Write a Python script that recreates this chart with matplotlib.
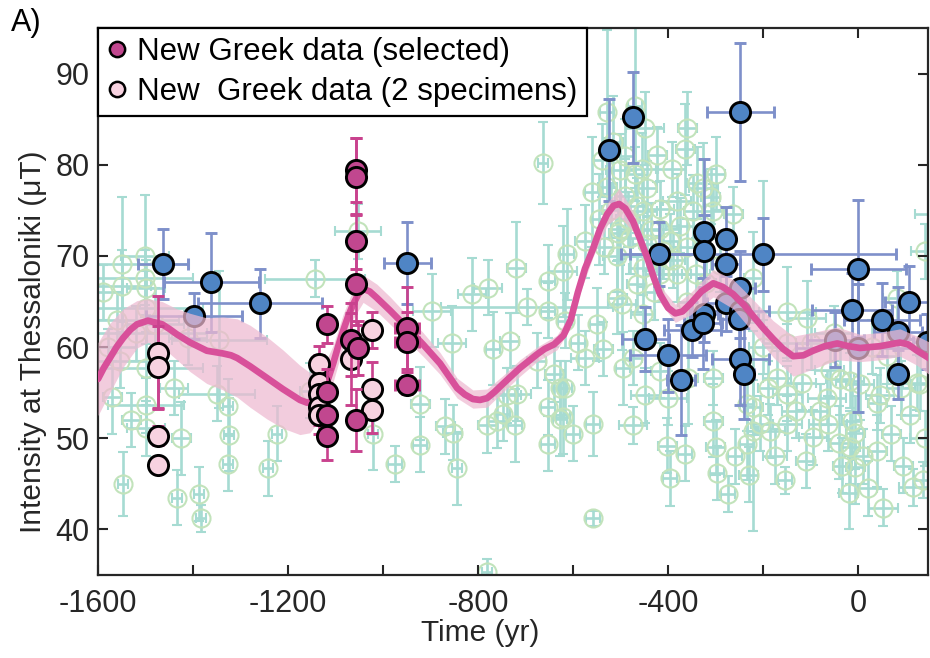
import matplotlib
matplotlib.use('Agg')
import matplotlib.pyplot as plt
from matplotlib.lines import Line2D
from matplotlib.ticker import FuncFormatter

plt.rcParams['font.family'] = ['Liberation Sans', 'DejaVu Sans']
plt.rcParams['axes.unicode_minus'] = False

# ---------------- data ----------------
# Literature data (teal): x, y, x-error, y-error
teal_x = [-1549, -1549, -1501, -1501, -1499, -1499, -1554, -1499, -1499, -1499,
          -1547, -1425, -1434, -1387, -1383, -1349, -1326, -1324, -1326, -1345,
          -1242, -1223, -1143, -1640, -1560, -1520, -1580, -1154, -1053, -1021,
          -975, -922, -922, -897, -855, -844, -869, -853, -813, -779,
          -768, -733, -720, -697, -653, -621, -676, -653, -653, -627,
          -627, -722, -781, -760, -747, -739, -718, -781, -663, -653,
          -528, -469, -448, -423, -392, -364, -326, -528, -501, -455,
          -491, -444, -453, -417, -381, -347, -305, -263, -501, -417,
          -375, -396, -444, -613, -575, -453, -417, -381, -341, -466,
          -617, -549, -537, -575, -617, -621, -558, -558, -497, -495,
          -448, -474, -400, -402, -396, -364, -305, -297, -274, -358,
          -305, -234, -234, -474, -507, -453, -417, -221, -200, -508,
          -480, -430, -360, -320, -290,
          -221, -149, -107, -171, -118, -149, -65, -38, -17, 4,
          46, 40, 124, -221, -206, -185, -149, -95, -63, -13,
          -6, -17, 40, -154, -34, -6, 53, 116, 137, 131,
          141, 82, 170, -100, -50, 30, -200, 60, -150]
teal_y = [69.1, 66.7, 70.0, 67.6, 66.5, 64.3, 58.5, 57.7, 53.6, 51.1,
          45.0, 50.0, 43.5, 43.9, 41.2, 54.9, 53.5, 50.4, 47.2, 60.8,
          46.7, 50.5, 67.5, 38.3, 63.0, 61.5, 60.0, 55.2, 72.7, 50.5,
          47.2, 53.8, 49.3, 64.0, 60.5, 46.7, 51.3, 50.6, 65.8, 66.5,
          59.8, 60.7, 68.7, 64.4, 67.2, 68.3, 58.5, 53.4, 49.4, 55.5,
          52.1, 51.4, 51.4, 51.9, 52.7, 54.7, 54.9, 35.3, 80.2, 64.0,
          85.8, 86.4, 84.0, 81.1, 79.5, 81.7, 77.4, 77.6, 79.4, 79.5,
          76.6, 77.4, 74.9, 75.2, 76.0, 74.9, 74.9, 74.6, 73.0, 73.0,
          73.3, 71.6, 71.3, 70.2, 71.6, 68.7, 68.0, 68.0, 68.0, 66.9,
          62.9, 62.5, 59.8, 58.8, 55.5, 52.3, 51.6, 41.2, 64.7, 57.7,
          54.7, 51.4, 54.4, 49.2, 45.6, 48.3, 51.9, 46.2, 43.9, 56.6,
          56.6, 49.4, 53.8, 58.8, 65.4, 63.6, 57.4, 50.8, 70.2, 70.0,
          72.0, 66.0, 65.0, 67.0, 69.0,
          67.6, 63.8, 63.2, 56.6, 56.1, 54.9, 54.4, 56.5, 56.3, 56.0,
          54.7, 53.9, 56.1, 53.4, 51.6, 50.8, 51.6, 50.1, 51.6, 51.9,
          50.6, 49.0, 48.6, 45.4, 47.0, 46.8, 42.4, 44.6, 45.4, 56.0,
          70.5, 65.4, 74.6, 60.5, 61.5, 60.0, 60.0, 59.0, 60.5]
teal_xerr = [140, 60, 50, 100, 40, 120, 100, 120, 80, 40,
             10, 20, 10, 10, 10, 80, 10, 10, 10, 100,
             10, 10, 105, 40, 130, 150, 60, 20, 48, 10,
             15, 20, 15, 40, 30, 10, 20, 20, 30, 30,
             15, 20, 20, 180, 15, 30, 20, 15, 15, 15,
             15, 15, 20, 20, 15, 30, 30, 10, 10, 15,
             15, 15, 40, 20, 30, 20, 30, 20, 30, 30,
             20, 20, 30, 30, 30, 20, 20, 20, 20, 40,
             30, 20, 30, 15, 20, 30, 30, 30, 30, 20,
             15, 15, 20, 30, 15, 15, 15, 15, 30, 15,
             30, 30, 40, 20, 15, 15, 20, 15, 15, 20,
             20, 15, 15, 20, 20, 25, 20, 10, 15, 30,
             20, 20, 20, 20, 20,
             20, 60, 40, 30, 30, 30, 40, 30, 30, 30,
             30, 20, 30, 20, 20, 30, 30, 30, 40, 20,
             20, 20, 20, 15, 20, 20, 30, 30, 20, 20,
             30, 30, 50, 30, 40, 30, 30, 30, 50]
teal_yerr = [7.4, 4.0, 6.7, 3.0, 3.0, 4.0, 3.0, 4.0, 3.0, 3.0,
             3.5, 4.0, 3.0, 3.0, 1.5, 3.0, 3.0, 4.0, 3.0, 7.5,
             3.0, 3.0, 2.0, 1.0, 3.0, 3.0, 2.0, 3.0, 3.0, 4.0,
             2.0, 4.0, 3.0, 4.0, 4.0, 4.0, 3.0, 3.0, 4.0, 3.0,
             4.0, 3.0, 5.0, 2.0, 4.0, 5.0, 3.0, 3.0, 3.0, 3.0,
             4.0, 4.0, 3.0, 3.0, 3.0, 3.0, 3.0, 1.5, 4.5, 3.0,
             9.0, 9.0, 4.0, 3.0, 3.0, 5.0, 5.0, 4.0, 4.0, 4.0,
             4.0, 3.0, 4.0, 3.0, 3.0, 4.0, 3.0, 3.0, 4.0, 3.0,
             3.0, 3.0, 3.0, 5.0, 4.0, 3.0, 3.0, 3.0, 4.0, 3.0,
             3.0, 4.0, 3.0, 3.0, 3.0, 4.0, 3.5, 0.8, 5.0, 4.0,
             3.0, 2.0, 3.0, 3.0, 3.0, 3.0, 4.0, 3.0, 2.0, 5.0,
             3.0, 4.0, 3.0, 3.0, 4.0, 3.0, 3.0, 11.0, 8.0, 4.0,
             4.0, 3.0, 3.0, 3.0, 3.0,
             5.0, 5.0, 4.0, 3.0, 3.0, 3.0, 3.0, 4.0, 3.0, 4.0,
             3.0, 3.0, 3.0, 3.0, 3.0, 3.0, 3.0, 3.0, 3.0, 4.0,
             4.0, 4.0, 4.0, 1.5, 3.0, 4.0, 2.0, 2.0, 2.0, 3.0,
             3.0, 3.0, 1.5, 3.0, 3.0, 3.0, 3.0, 3.0, 2.0]

# More literature data (teal), densest clusters
teal2_x = [-540, -515, -490, -470, -520, -505, -485, -465, -435, -410,
           -390, -360, -340, -300, -310, -560, -545, -535, -360,
           -190, -130, -80, -40, 10, 20, -20, 70, 95, 110,
           140, -175, -110, -60, 90, -230, -260, -300,
           -1590, -1570, -1530, -1480, -1440, -1410, -640, -600, -590]
teal2_y = [80.5, 82.5, 81.0, 79.0, 75.0, 72.5, 74.0, 75.5, 72.8, 70.5,
           69.5, 71.0, 78.0, 79.0, 76.5, 77.0, 74.0, 71.0, 84.0,
           55.5, 53.0, 53.0, 49.5, 48.0, 44.5, 44.0, 50.5, 47.0, 52.5,
           50.0, 48.0, 47.5, 57.5, 55.5, 46.0, 48.0, 49.0,
           66.0, 54.5, 52.0, 62.5, 55.5, 61.0, 57.0, 50.5, 60.5]
teal2_xerr = [15, 20, 20, 20, 20, 20, 25, 20, 20, 20,
              25, 20, 20, 20, 20, 15, 15, 20, 20,
              20, 30, 20, 20, 20, 20, 20, 20, 20, 20,
              30, 25, 20, 30, 30, 20, 15, 20,
              40, 20, 20, 60, 30, 40, 20, 15, 15]
teal2_yerr = [4, 5, 4, 3, 3, 3, 3, 3, 3, 3,
              3, 3, 4, 4, 3, 6, 5, 3, 4,
              3, 3, 3, 4, 3, 3, 4, 3, 3, 3,
              3, 3, 3, 3, 3, 3, 3, 3,
              3, 4, 3, 4, 3, 3, 3, 3, 3]

# Selected literature data (blue)
blue_x = [-1463, -1362, -1398, -1259, -949, -524, -474, -248, -419, -324,
          -324, -278, -278, -200, -248, -278, -248, -250, -248, -240,
          -448, -400, -373, -349, -324, -326, 0, -13, 51, 107,
          84, 84, 145, -48, 0]
blue_y = [69.1, 67.1, 63.4, 64.8, 69.2, 81.6, 85.2, 85.8, 70.2, 72.6,
          70.5, 71.9, 69.1, 70.2, 66.5, 64.8, 64.0, 63.1, 58.7, 57.1,
          60.9, 59.1, 56.4, 61.9, 63.6, 62.6, 68.6, 64.1, 63.0, 64.9,
          57.0, 61.6, 60.6, 60.8, 59.9]
blue_xerr = [52, 100, 102, 130, 50, 10, 10, 70, 80, 15,
             15, 10, 30, 280, 30, 40, 60, 40, 60, 20,
             50, 80, 30, 60, 30, 40, 100, 84, 80, 50,
             15, 50, 30, 60, 130]
blue_yerr = [3.8, 5.4, 2.5, 3.8, 4.5, 5.6, 5.0, 7.6, 3.5, 8.0,
             4.0, 3.5, 3.0, 4.0, 4.0, 3.0, 3.0, 4.0, 5.0, 5.0,
             3.5, 4.0, 6.0, 3.0, 3.0, 5.0, 7.5, 4.0, 4.0, 4.0,
             2.7, 5.0, 3.0, 3.0, 7.0]

# New Greek data (selected)
sel_x = [-1056, -1056, -1056, -1056, -1056, -1118, -1118, -1118, -1118,
         -1067, -1053, -949, -949, -949]
sel_y = [79.4, 78.7, 71.6, 66.9, 52.0, 62.5, 55.1, 52.6, 50.2,
         60.8, 59.9, 62.1, 60.6, 55.8]
sel_xerr = [10, 10, 10, 12, 10, 12, 12, 12, 12, 10, 10, 25, 25, 25]
sel_yerr = [3.5, 4.2, 3.0, 4.5, 3.4, 2.0, 2.5, 2.5, 2.6, 4.0, 3.0, 4.5, 3.3, 1.0]

# New Greek data (2 specimens)
two_x = [-1474, -1474, -1474, -1474, -1135, -1135, -1135, -1135, -1135,
         -1023, -1023, -1023, -1067]
two_y = [59.4, 57.8, 50.3, 47.1, 58.1, 56.1, 54.9, 53.4, 52.5,
         61.9, 55.4, 53.1, 58.7]
two_xerr = [12, 12, 8, 8, 12, 12, 12, 12, 12, 10, 10, 10, 10]
two_yerr = [6.2, 4.5, 1.0, 0.5, 2.0, 3.0, 2.0, 2.0, 2.0, 2.0, 3.0, 2.5, 5.0]

# Curve
curve_x = [-1600, -1588, -1575, -1561, -1547, -1532, -1518, -1495, -1465, -1450,
           -1434, -1406, -1371, -1337, -1320, -1307, -1280, -1244, -1211, -1175,
           -1160, -1145, -1135, -1126, -1115, -1105, -1095, -1084, -1074, -1063,
           -1052, -1042, -1028, -1013, -985, -949, -916, -880, -860, -844,
           -828, -811, -796, -781, -765, -747, -712, -676, -660, -640,
           -620, -605, -590, -575, -558, -543, -528, -515, -503, -490,
           -474, -460, -444, -430, -417, -400, -385, -370, -354, -330,
           -305, -285, -263, -240, -221, -200, -179, -158, -137, -115,
           -95, -70, -44, -20, 4, 46, 88, 105, 124, 152]
curve_y = [56.5, 57.7, 58.8, 60.0, 61.0, 61.9, 62.5, 62.9, 62.5, 62.0,
           61.4, 60.5, 59.6, 59.3, 59.1, 58.8, 57.9, 56.6, 55.4, 54.2,
           53.9, 54.1, 54.5, 55.2, 56.6, 58.2, 60.0, 61.8, 63.3, 64.7,
           65.8, 66.4, 66.1, 65.4, 64.0, 62.1, 60.3, 58.2, 56.7, 55.5,
           54.8, 54.3, 54.2, 54.4, 55.1, 56.0, 57.7, 59.2, 59.8, 60.3,
           61.3, 63.0, 66.0, 68.6, 70.8, 73.0, 74.6, 75.5, 75.7, 75.2,
           73.8, 72.0, 69.8, 67.6, 65.8, 64.3, 63.7, 63.9, 64.7, 66.1,
           67.0, 66.6, 65.8, 64.6, 63.4, 62.1, 60.9, 59.8, 59.0, 59.1,
           59.6, 60.1, 60.4, 60.1, 59.9, 60.1, 60.5, 60.3, 59.6, 58.7]

# Uncertainty band: position, centre, half-width
band_x = [-1600, -1575, -1547, -1518, -1495, -1465, -1434, -1406, -1371, -1337,
          -1307, -1280, -1244, -1211, -1175, -1154, -1126, -1105, -1084, -1063,
          -1042, -1013, -985, -949, -916, -880, -844, -811, -781, -747,
          -712, -676, -634, -606, -592, -558, -528, -503, -474, -444,
          -417, -385, -354, -305, -263, -221, -179, -137, -95, -44,
          4, 46, 88, 124, 152]
band_c = [56.5, 58.8, 61.0, 62.5, 62.9, 62.5, 61.4, 60.5, 59.6, 59.3,
          58.8, 57.9, 56.6, 55.4, 54.2, 53.9, 55.2, 58.2, 61.8, 64.7,
          66.4, 65.4, 64.0, 62.1, 60.3, 58.2, 55.5, 54.3, 54.4, 56.0,
          57.7, 59.2, 60.5, 62.8, 65.8, 70.8, 74.6, 75.9, 73.8, 69.8,
          65.8, 63.7, 64.7, 67.0, 65.8, 63.4, 60.9, 59.0, 59.6, 60.4,
          59.9, 60.1, 60.5, 59.6, 58.7]
band_hw = [4.0, 3.8, 3.2, 2.6, 2.4, 2.5, 2.8, 3.2, 3.6, 4.0,
           4.3, 4.5, 4.5, 4.3, 3.8, 3.3, 2.6, 2.0, 1.8, 1.6,
           1.5, 1.5, 1.5, 1.4, 1.3, 1.2, 1.1, 1.0, 1.0, 0.9,
           0.9, 0.8, 0.8, 0.8, 0.8, 0.9, 1.2, 1.5, 1.1, 0.9,
           0.9, 1.0, 1.2, 1.5, 1.6, 1.8, 2.0, 2.2, 2.0, 1.8,
           1.5, 1.5, 1.5, 1.6, 1.8]

xticks = [-1600, -1400, -1200, -1000, -800, -600, -400, -200, 0]
yticks = [40, 50, 60, 70, 80, 90]
legend_labels = ['New Greek data (selected)', 'New  Greek data (2 specimens)']

# ---------------- colours ----------------
teal_err = '#a6dbd2'
teal_edge = '#c2e3bb'
blue_face = '#4f85c5'
blue_err = '#7e90ca'
sel_face = '#c1478f'
two_face = '#f7d2e0'
mag_err = '#c9428e'
curve_col = '#d8509a'
band_col = '#eeb9d1'

fig = plt.figure(figsize=(9.3, 6.58), dpi=100)
ax = fig.add_axes([98 / 930, 1 - 575 / 658, 830 / 930, (575 - 28) / 658])

teal_style = dict(fmt='o', ms=13, mfc='none', mec=teal_edge, mew=1.5,
                  ecolor=teal_err, elinewidth=1.9, capsize=3.8, capthick=1.9,
                  zorder=1)
ax.errorbar(teal_x, teal_y, xerr=teal_xerr, yerr=teal_yerr, **teal_style)
ax.errorbar(teal2_x, teal2_y, xerr=teal2_xerr, yerr=teal2_yerr, **teal_style)
ax.errorbar(blue_x, blue_y, xerr=blue_xerr, yerr=blue_yerr, fmt='o', ms=14.5,
            mfc=blue_face, mec='k', mew=2.1, ecolor=blue_err, elinewidth=1.9,
            capsize=4.2, capthick=1.9, zorder=2)

lo = [c - h for c, h in zip(band_c, band_hw)]
hi = [c + h for c, h in zip(band_c, band_hw)]
ax.fill_between(band_x, lo, hi, color=band_col, alpha=0.72, lw=0, zorder=3)
ax.plot(curve_x, curve_y, color=curve_col, lw=4.8, zorder=4,
        solid_capstyle='round', solid_joinstyle='round')

ax.errorbar(two_x, two_y, xerr=two_xerr, yerr=two_yerr, fmt='o', ms=14.5,
            mfc=two_face, mec='k', mew=2.1, ecolor=mag_err, elinewidth=1.9,
            capsize=4.2, capthick=1.9, zorder=5)
ax.errorbar(sel_x, sel_y, xerr=sel_xerr, yerr=sel_yerr, fmt='o', ms=14.5,
            mfc=sel_face, mec='k', mew=2.1, ecolor=mag_err, elinewidth=1.9,
            capsize=4.2, capthick=1.9, zorder=6)

ax.set_xlim(-1600, 147)
ax.set_ylim(35, 95)
ax.set_xticks(xticks)
ax.xaxis.set_major_formatter(FuncFormatter(lambda v, p: f'{int(v)}' if int(v) % 400 == 0 else ''))
ax.set_yticks(yticks)
ax.tick_params(direction='in', length=7, width=1.5, top=True, right=True,
               labelsize=22, colors='#262626')
ax.tick_params(axis='x', pad=10)
ax.tick_params(axis='y', pad=6)
for s in ax.spines.values():
    s.set_linewidth(1.6)
    s.set_color('#262626')

fig.text(480 / 930, 1 - 633 / 658, 'Time (yr)', ha='center', va='center',
         fontsize=21.5, color='#262626')
fig.text(33 / 930, 1 - 342 / 658, 'Intensity at Thessaloniki (μT)', ha='center',
         va='center', rotation=90, fontsize=21.5, color='#262626')
fig.text(11 / 930, 1 - 23 / 658, 'A)', ha='left', va='center', fontsize=22, color='k')

handles = [Line2D([], [], marker='o', ls='none', ms=11, mfc=sel_face, mec='k', mew=1.8),
           Line2D([], [], marker='o', ls='none', ms=11, mfc=two_face, mec='k', mew=1.8)]
leg = ax.legend(handles, legend_labels, loc='upper left', bbox_to_anchor=(0, 1),
                borderaxespad=0, frameon=True, fancybox=False, edgecolor='k',
                framealpha=1, fontsize=22.5, handlelength=0.6, handletextpad=0.35,
                borderpad=0.3, labelspacing=0.3)
leg.get_frame().set_linewidth(1.6)
leg.set_zorder(10)

fig.savefig('out.png', dpi=100)
